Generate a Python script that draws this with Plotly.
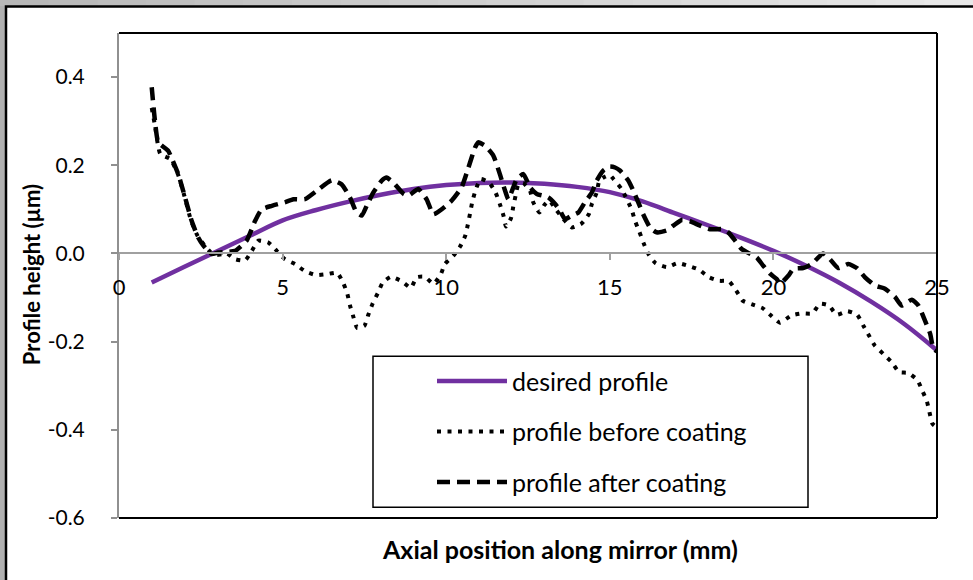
import plotly.graph_objects as go

# ---------------- data ----------------
desired_x = [1, 2, 3, 4, 5, 6, 7, 8, 9, 10, 11, 12, 13, 14, 15, 16, 17, 18, 19, 20, 21, 22, 23, 24, 25]
desired_y = [-0.066, -0.03, 0.005, 0.04, 0.075, 0.098, 0.117, 0.133, 0.146, 0.155, 0.16, 0.161, 0.158,
             0.151, 0.139, 0.118, 0.091, 0.064, 0.036, 0.006, -0.028, -0.066, -0.11, -0.16, -0.22]

before_x = [1.0, 1.1, 1.26, 1.57, 1.8, 2.0, 2.2, 2.4, 2.6, 2.8, 3.05, 3.3, 3.55, 3.85, 4.06, 4.26, 4.56,
            4.82, 5.07, 5.38, 5.68, 6.02, 6.35, 6.67, 6.86, 6.98, 7.06, 7.16, 7.28, 7.5, 7.62, 7.75,
            7.91, 8.06, 8.31, 8.64, 8.92, 9.1, 9.35, 9.61, 9.83, 9.96, 10.22, 10.42, 10.58, 10.66,
            10.73, 10.8, 10.9, 11.05, 11.31, 11.51, 11.64, 11.75, 11.83, 11.98, 12.05, 12.12, 12.2,
            12.35, 12.56, 12.66, 12.85, 13.0, 13.15, 13.35, 13.58, 13.84, 14.14, 14.36, 14.45, 14.6,
            14.68, 14.85, 15.0, 15.11, 15.36, 15.67, 15.77, 15.9, 16.03, 16.18, 16.4, 16.74, 17.08,
            17.4, 17.73, 18.03, 18.34, 18.64, 18.86, 19.06, 19.37, 19.67, 19.93, 20.2, 20.54, 20.86,
            21.19, 21.42, 21.7, 21.93, 22.26, 22.56, 22.75, 22.92, 23.1, 23.36, 23.62, 23.84, 24.12,
            24.4, 24.55, 24.69, 24.77, 24.86, 25.0]
before_y = [0.33, 0.29, 0.226, 0.214, 0.18, 0.13, 0.075, 0.04, 0.02, 0.003, -0.003, 0.0, -0.013, -0.016,
            0.006, 0.029, 0.025, 0.006, -0.013, -0.024, -0.04, -0.049, -0.047, -0.044, -0.068, -0.092,
            -0.118, -0.143, -0.169, -0.164, -0.139, -0.114, -0.09, -0.066, -0.053, -0.063, -0.078,
            -0.054, -0.053, -0.069, -0.048, -0.024, -0.005, 0.015, 0.04, 0.065, 0.091, 0.118, 0.144,
            0.169, 0.161, 0.138, 0.112, 0.086, 0.061, 0.08, 0.106, 0.131, 0.155, 0.16, 0.142, 0.116,
            0.093, 0.11, 0.12, 0.1, 0.078, 0.059, 0.068, 0.089, 0.112, 0.138, 0.165, 0.174, 0.178,
            0.169, 0.146, 0.099, 0.074, 0.05, 0.024, -0.001, -0.022, -0.031, -0.022, -0.028, -0.037,
            -0.054, -0.062, -0.063, -0.084, -0.107, -0.116, -0.124, -0.141, -0.157, -0.141, -0.136,
            -0.136, -0.114, -0.118, -0.139, -0.131, -0.139, -0.164, -0.186, -0.209, -0.228, -0.247,
            -0.269, -0.271, -0.287, -0.311, -0.335, -0.36, -0.386, -0.395]

after_x = [1.0, 1.1, 1.2, 1.5, 1.6, 1.81, 2.02, 2.22, 2.42, 2.58, 2.83, 3.03, 3.24, 3.55, 3.9, 4.16,
           4.36, 4.67, 5.07, 5.33, 5.68, 6.04, 6.5, 6.8, 7.06, 7.26, 7.42, 7.57, 7.77, 8.03, 8.18,
           8.38, 8.7, 8.84, 9.15, 9.4, 9.61, 9.91, 10.17, 10.47, 10.68, 10.88, 10.98, 11.19, 11.44,
           11.64, 11.8, 11.9, 12.05, 12.16, 12.36, 12.56, 12.77, 12.97, 13.12, 13.33, 13.48, 13.63,
           13.84, 14.04, 14.24, 14.45, 14.6, 14.8, 15.0, 15.16, 15.31, 15.57, 15.72, 15.87, 16.02,
           16.23, 16.43, 16.74, 16.94, 17.2, 17.45, 17.76, 18.06, 18.47, 18.62, 18.83, 19.03, 19.29,
           19.49, 19.69, 19.9, 20.1, 20.2, 20.46, 20.61, 20.91, 21.17, 21.52, 21.73, 21.98, 22.29,
           22.55, 22.8, 23.11, 23.41, 23.72, 23.92, 24.23, 24.43, 24.63, 24.79, 24.89, 25.0]
after_y = [0.377, 0.30, 0.252, 0.233, 0.218, 0.18, 0.127, 0.074, 0.036, 0.018, -0.001, 0.002, 0.003,
           0.006, 0.029, 0.074, 0.10, 0.108, 0.116, 0.123, 0.123, 0.142, 0.166, 0.157, 0.127, 0.093,
           0.086, 0.108, 0.138, 0.165, 0.172, 0.161, 0.135, 0.131, 0.146, 0.123, 0.089, 0.103, 0.12,
           0.15, 0.195, 0.24, 0.252, 0.244, 0.222, 0.18, 0.142, 0.123, 0.15, 0.169, 0.18, 0.15, 0.135,
           0.131, 0.127, 0.112, 0.097, 0.078, 0.086, 0.093, 0.116, 0.138, 0.165, 0.188, 0.197, 0.195,
           0.188, 0.165, 0.142, 0.116, 0.089, 0.059, 0.048, 0.052, 0.063, 0.076, 0.073, 0.063, 0.055,
           0.055, 0.048, 0.029, 0.01, -0.001, -0.009, -0.028, -0.046, -0.058, -0.069, -0.05, -0.035,
           -0.033, -0.024, 0.0, -0.013, -0.033, -0.024, -0.033, -0.054, -0.073, -0.08, -0.099, -0.118,
           -0.105, -0.118, -0.152, -0.182, -0.216, -0.222]

series_names = ["desired profile", "profile before coating", "profile after coating"]
x_ticks = [0, 5, 10, 15, 20, 25]
y_ticks = [-0.6, -0.4, -0.2, 0.0, 0.2, 0.4]
x_range = [0, 25]
y_range = [-0.6, 0.5]
x_title = "Axial position along mirror (mm)"
y_title = "Profile height (µm)"

# ---------------- layout geometry (pixels) ----------------
W, H = 973, 580
L, R, T, B = 119, 937, 33, 517.7
FONT = "Lato"


def px(xp):
    return (xp - L) / (R - L)


def py(yp):
    return (B - yp) / (B - T)


fig = go.Figure()
fig.add_trace(go.Scatter(x=desired_x, y=desired_y, mode="lines", name=series_names[0],
                         legendgroup="a", line=dict(color="#7030A0", width=4.5, shape="spline")))
fig.add_trace(go.Scatter(x=before_x, y=before_y, mode="lines", name=series_names[1],
                         legendgroup="b", line=dict(color="black", width=4, dash="4px,6.5px",
                                                    shape="spline", smoothing=0.5)))
fig.add_trace(go.Scatter(x=after_x, y=after_y, mode="lines", name=series_names[2],
                         legendgroup="c", line=dict(color="black", width=4.5, dash="13px,7px",
                                                    shape="spline", smoothing=0.5)))

shapes = []
# gray frame gradient on top strip
n = 20
for i in range(n):
    g = int(184 + (232 - 184) * i / (n - 1))
    shapes.append(dict(type="rect", xref="paper", yref="paper", layer="below",
                       x0=px(i * W / n), x1=px((i + 1) * W / n + 1), y0=py(6), y1=py(0),
                       fillcolor=f"rgb({g},{g},{g})", line=dict(width=0)))
# white chart area with black border
shapes.append(dict(type="rect", xref="paper", yref="paper", layer="below",
                   x0=px(6), x1=px(W + 10), y0=py(H + 10), y1=py(6.5),
                   fillcolor="white", line=dict(color="black", width=2.5)))
# plot-area border top/right/bottom
for (x0, y0, x1, y1) in [(0, 1, 1, 1), (1, 0, 1, 1), (0, 0, 1, 0)]:
    shapes.append(dict(type="line", xref="paper", yref="paper", layer="above",
                       x0=x0, y0=y0, x1=x1, y1=y1, line=dict(color="black", width=2)))
# legend box
shapes.append(dict(type="rect", xref="paper", yref="paper", layer="below",
                   x0=px(373), x1=px(808), y0=py(507), y1=py(356),
                   fillcolor="white", line=dict(color="black", width=1.5)))

fig.update_layout(
    width=W, height=H,
    margin=dict(l=L, r=W - R, t=T, b=H - B, pad=0),
    paper_bgcolor="rgb(176,176,176)",
    plot_bgcolor="white",
    font=dict(family=FONT, color="black", size=22),
    showlegend=True,
    legend=dict(x=px(432), y=py(358), xanchor="left", yanchor="top",
                bgcolor="rgba(0,0,0,0)", borderwidth=0, traceorder="grouped",
                tracegroupgap=15, itemwidth=70, font=dict(size=25, family=FONT, color="black")),
    xaxis=dict(range=x_range, tickvals=x_ticks, ticktext=[str(v) for v in x_ticks],
               anchor="free", position=(0 - y_range[0]) / (y_range[1] - y_range[0]),
               showline=True, linecolor="#a0a0a0", linewidth=2, ticks="outside",
               ticklen=6, tickwidth=1.5, tickcolor="#a0a0a0", showgrid=False, zeroline=False,
               ticklabelstandoff=8, tickfont=dict(size=22, family=FONT, color="black")),
    yaxis=dict(range=y_range, tickvals=y_ticks, ticktext=[f"{v:.1f}" for v in y_ticks],
               showline=True, linecolor="#909090", linewidth=2, ticks="outside", ticklen=6,
               tickwidth=1.5, tickcolor="#909090", showgrid=False, zeroline=False,
               ticklabelstandoff=22, tickfont=dict(size=21, family=FONT, color="black")),
    shapes=shapes,
    annotations=[
        dict(text=f"<b>{x_title}</b>", xref="paper", yref="paper", x=px(560), y=py(549),
             xanchor="center", yanchor="middle", showarrow=False,
             font=dict(size=25, family=FONT, color="black")),
        dict(text=f"<b>{y_title}</b>", xref="paper", yref="paper", x=px(31), y=py(275),
             xanchor="center", yanchor="middle", showarrow=False, textangle=-90,
             font=dict(size=22, family=FONT, color="black")),
    ],
)

fig.write_html("out.html", config={"displayModeBar": False},
               post_script="document.body.style.margin='0px';")
